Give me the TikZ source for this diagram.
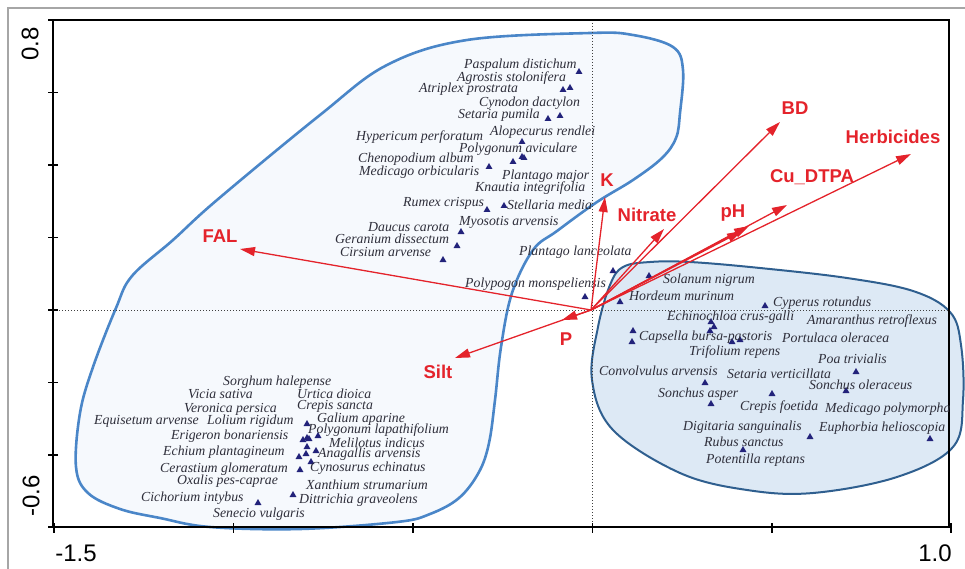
\documentclass[tikz,border=0pt]{standalone}
\usepackage{fontspec}
\setmainfont{Liberation Serif}
\setsansfont{Liberation Sans}
\usetikzlibrary{arrows.meta,shapes.geometric}

\definecolor{hullblue}{HTML}{4A86C8}
\definecolor{hullfill}{HTML}{F6F9FD}
\definecolor{grpblue}{HTML}{2F5F8F}
\definecolor{grpfill}{HTML}{DDE9F5}
\definecolor{vecred}{HTML}{E4232B}
\definecolor{spnavy}{HTML}{22227A}
\definecolor{sptext}{HTML}{2E2E3A}

\tikzset{
  sp/.style={anchor=west, inner sep=0pt, text=sptext, font=\fontsize{13.8}{14}\selectfont\itshape},
  tri/.style={regular polygon, regular polygon sides=3, fill=spnavy, inner sep=0pt, minimum size=8pt},
  vec/.style={vecred, line width=1.3pt, -{Triangle[length=15pt,width=9pt]}},
  lab/.style={text=vecred, font=\fontsize{18.5}{20}\selectfont\sffamily\bfseries, inner sep=0pt},
  ticklab/.style={font=\fontsize{24}{26}\selectfont\sffamily, inner sep=0pt},
}

\begin{document}
\begin{tikzpicture}[x=1pt,y=-1pt]
    \useasboundingbox (0,0) rectangle (965,569);
    \draw[gray!70, line width=1.2pt] (8,580) -- (8,8) -- (975,8);

    % species groups
    \filldraw[draw=hullblue, fill=hullfill, line width=2.6pt]
        plot[smooth cycle, tension=0.6] coordinates {
        (590,33) (633,35) (673,47) (683,70) (680,113) (676,138) (662,158)
        (633,180) (597,202) (557,231) (533,250) (512,293) (501,347) (495,400)
        (489,443) (479,472) (459,498) (430,514) (397,522) (300,529) (210,527)
        (160,518) (120,509) (88,493) (76,467) (80,413) (93,367) (116,308)
        (132,276) (173,240) (217,200) (320,115) (387,65) (467,40)};
    \filldraw[draw=grpblue, fill=grpfill, line width=2pt]
        plot[smooth cycle, tension=0.6] coordinates {
        (623,267) (650,262) (690,262) (760,268) (847,278) (913,291) (950,312)
        (961,345) (963,400) (953,447) (897,477) (813,493) (747,490) (680,473)
        (613,430) (592,380) (598,327) (610,285)};

    % axes through the origin
    \draw[black!75, dotted, line width=1pt] (592,20) -- (592,527);
    \draw[black!75, dotted, line width=1pt] (53,310) -- (949,310);

    % frame and ticks
    \draw[line width=1.4pt] (53,527) -- (53,20) -- (949,20) -- (949,527) -- cycle;
    \foreach \y in {20,92.5,165,237.5,310,382.5,455,527}
        \draw[line width=1.2pt] (48,\y) -- (58,\y);
    \foreach \x in {54,233.5,413,592.5,772,951}
        \draw[line width=1.2pt] (\x,523) -- (\x,533);
    \node[ticklab, rotate=90] (ytop) at (30,44) {0.8};
    \node[ticklab, rotate=90] (ybot) at (31,496) {-0.6};
    \node[ticklab] (xleft) at (76,553) {-1.5};
    \node[ticklab] (xright) at (935,553) {1.0};

    % species scores
    \foreach \x/\y [count=\i] in {579/72, 563/90, 570/88, 548/119, 560/116,
        522/142, 513/162, 522/157, 524/158, 489/167, 487/210, 504/206,
        461/232, 457/246, 443/260, 613/271, 585/297,
        649/276, 620/302, 765/306, 711/322, 714/327, 710/331, 633/331,
        632/342, 732/342, 740/340, 856/372, 705/383, 846/391, 772/394,
        711/404, 810/437, 930/439, 743/450,
        307/424, 303/440, 307/438, 309/439, 318/436, 307/447, 299/457,
        306/454, 316/451, 300/470, 311/462, 258/503, 293/495}
        \node[tri] (t\i) at (\x,\y) {};

    % species names
    \foreach \nm/\x/\y/\txt in {
        paspalum/464/65/Paspalum distichum,
        agrostis/457/78/Agrostis stolonifera,
        atriplex/419/89/Atriplex prostrata,
        cynodon/479/103/Cynodon dactylon,
        setpum/458/115/Setaria pumila,
        hypericum/356/137/Hypericum perforatum,
        alopecurus/490/132/Alopecurus rendlei,
        polyavi/459/149/Polygonum aviculare,
        chenopodium/358/159/Chenopodium album,
        medorb/359/172/Medicago orbicularis,
        plamaj/502/176/Plantago major,
        knautia/475/188/Knautia integrifolia,
        rumex/403/203/Rumex crispus,
        stellaria/507/205/Stellaria media,
        myosotis/459/222/Myosotis arvensis,
        daucus/368/227/Daucus carota,
        geranium/335/239/Geranium dissectum,
        cirsium/340/252/Cirsium arvense,
        plalan/519/252/Plantago lanceolata,
        polypogon/465/284/Polypogon monspeliensis,
        solanum/663/280/Solanum nigrum,
        hordeum/629/296/Hordeum murinum,
        cyperus/773/303/Cyperus rotundus,
        echinochloa/667/317/Echinochloa crus-galli,
        amaranthus/807/321/Amaranthus retroflexus,
        capsella/639/337/Capsella bursa-pastoris,
        portulaca/782/338/Portulaca oleracea,
        trifolium/689/352/Trifolium repens,
        poa/818/359/Poa trivialis,
        convolvulus/599/371/Convolvulus arvensis,
        setver/727/374/Setaria verticillata,
        sonole/809/385/Sonchus oleraceus,
        sonasp/658/394/Sonchus asper,
        crefoe/740/407/Crepis foetida,
        medpol/825/409/Medicago polymorpha,
        digitaria/683/427/Digitaria sanguinalis,
        euphorbia/819/428/Euphorbia helioscopia,
        rubus/704/442/Rubus sanctus,
        potentilla/706/460/Potentilla reptans,
        sorghum/223/382/Sorghum halepense,
        vicia/188/394/Vicia sativa,
        urtica/297/394/Urtica dioica,
        veronica/184/409/Veronica persica,
        cresan/297/406/Crepis sancta,
        equisetum/94/421/Equisetum arvense,
        lolium/207/421/Lolium rigidum,
        galium/317/419/Galium aparine,
        polylap/308/430/Polygonum lapathifolium,
        erigeron/171/436/Erigeron bonariensis,
        melilotus/329/443/Melilotus indicus,
        echium/163/452/Echium plantagineum,
        anagallis/318/454/Anagallis arvensis,
        cerastium/160/469/Cerastium glomeratum,
        cynosurus/310/468/Cynosurus echinatus,
        oxalis/177/481/Oxalis pes-caprae,
        xanthium/306/485/Xanthium strumarium,
        cichorium/141/498/Cichorium intybus,
        dittrichia/299/500/Dittrichia graveolens,
        senecio/213/514/Senecio vulgaris}
        \node[sp] (\nm) at (\x,\y) {\txt};

    % environmental vectors
    \coordinate (O) at (591,310);
    \coordinate (falTip) at (240,249);
    \coordinate (kTip) at (605,197);
    \coordinate (nitTip) at (664,229);
    \coordinate (bdTip) at (780,122);
    \coordinate (herbTip) at (911,154);
    \coordinate (cuTip) at (787,205);
    \coordinate (phTip) at (749,226);
    \coordinate (phTipB) at (742,231);
    \coordinate (pTip) at (562,320);
    \coordinate (siltTip) at (455,358);
    \foreach \tip in {falTip,kTip,nitTip,bdTip,herbTip,cuTip,phTip,phTipB,pTip,siltTip}
        \draw[vec] (O) -- (\tip);

    \node[lab] (fal) at (220,236) {FAL};
    \node[lab] (k) at (607,180) {K};
    \node[lab] (nitrate) at (647,215) {Nitrate};
    \node[lab] (bd) at (795,108) {BD};
    \node[lab] (herb) at (893,137) {Herbicides};
    \node[lab] (cu) at (812,177) {Cu\_DTPA};
    \node[lab] (ph) at (733,213) {pH};
    \node[lab] (p) at (566,339) {P};
    \node[lab] (silt) at (438,372) {Silt};
\end{tikzpicture}
\end{document}
